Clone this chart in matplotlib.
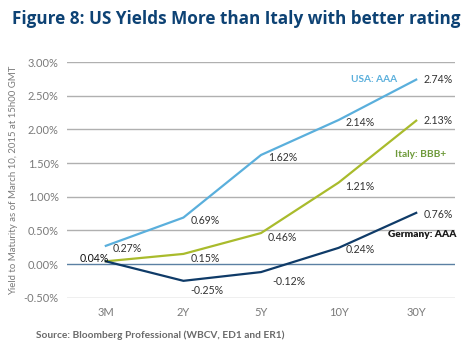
import matplotlib
matplotlib.use("Agg")
import matplotlib.pyplot as plt

categories = ["3M", "2Y", "5Y", "10Y", "30Y"]
usa = [0.27, 0.69, 1.62, 2.14, 2.74]
italy = [0.04, 0.15, 0.46, 1.21, 2.13]
germany = [0.04, -0.25, -0.12, 0.24, 0.76]
yticks = [-0.5, 0.0, 0.5, 1.0, 1.5, 2.0, 2.5, 3.0]

c_usa = "#5aafdc"
c_ita = "#a9bb2c"
c_ger = "#0f3b68"
grey = "#7a7a7a"

plt.rcParams['font.family'] = ['Lato', 'DejaVu Sans']

fig = plt.figure(figsize=(4.72, 3.51), dpi=100)
ax = fig.add_axes([0.142, 0.152, 0.822, 0.671])

x = list(range(len(categories)))
for yv in yticks:
    ax.axhline(yv, color="#5b80a3" if yv == 0 else "#b0b0b0", lw=1.0, zorder=1)

ax.plot(x, usa, color=c_usa, lw=1.6, zorder=3)
ax.plot(x, italy, color=c_ita, lw=1.6, zorder=3)
ax.plot(x, germany, color=c_ger, lw=1.6, zorder=4)

FS = 7.6

def lab(xi, v, dx=5, dy=-2, ha='left'):
    ax.annotate(f"{v:.2f}%", (xi, v), xytext=(dx, dy), textcoords='offset points',
                ha=ha, va='center', fontsize=FS, color="#333333", zorder=5)

# USA labels
for i, v in enumerate(usa):
    lab(i, v, dx=5, dy=-2 if i < 4 else 0)
# Italy labels
for i, v in enumerate(italy):
    if i == 0:
        continue
    lab(i, v, dx=5, dy=-3 if i != 4 else 0)
# Germany labels
for i, v in enumerate(germany):
    if i == 0:
        ax.annotate(f"{v:.2f}%", (i, v), xytext=(2, 2), textcoords='offset points',
                    ha='right', va='center', fontsize=FS, color="#111111", zorder=5)
        continue
    dy = -7 if v < 0 else -1
    lab(i, v, dx=5 if i != 2 else 8, dy=dy)

ax.annotate("USA: AAA", (4, usa[4]), xytext=(-47, 0), textcoords='offset points',
            ha='left', va='center', fontsize=7.3, color=c_usa, fontweight='bold')
ax.annotate("Italy: BBB+", (4, 1.63), xytext=(-15, 0), textcoords='offset points',
            ha='left', va='center', fontsize=7.3, color="#6e9a3a", fontweight='bold')
ax.annotate("Germany: AAA", (4, 0.44), xytext=(-20, 0), textcoords='offset points',
            ha='left', va='center', fontsize=7.3, color="#1a1a1a", fontweight='heavy')

ax.set_xlim(-0.5, 4.5)
ax.set_ylim(-0.5, 3.0)
ax.set_xticks(x)
ax.set_xticklabels(categories)
ax.set_yticks(yticks)
ax.set_yticklabels([f"{v:.2f}%" for v in yticks])
ax.tick_params(length=0, labelsize=8, colors=grey, pad=6)
ax.tick_params(axis='x', pad=7)
for s in ax.spines.values():
    s.set_visible(False)
ax.set_ylabel("Yield to Maturity as of March 10, 2015 at 15h00 GMT", fontsize=6.9, color=grey, labelpad=4)

fig.text(0.025, 0.945, "Figure 8: US Yields More than Italy with better rating",
         fontsize=12.3, fontweight='bold', color="#0d4274", ha='left', va='center',
         family=['Open Sans', 'DejaVu Sans'])
fig.text(0.077, 0.045, "Source: Bloomberg Professional (WBCV, ED1 and ER1)",
         fontsize=7.3, fontweight='bold', color="#6a6a6a", ha='left', va='center')

fig.savefig("out.png", dpi=100)
